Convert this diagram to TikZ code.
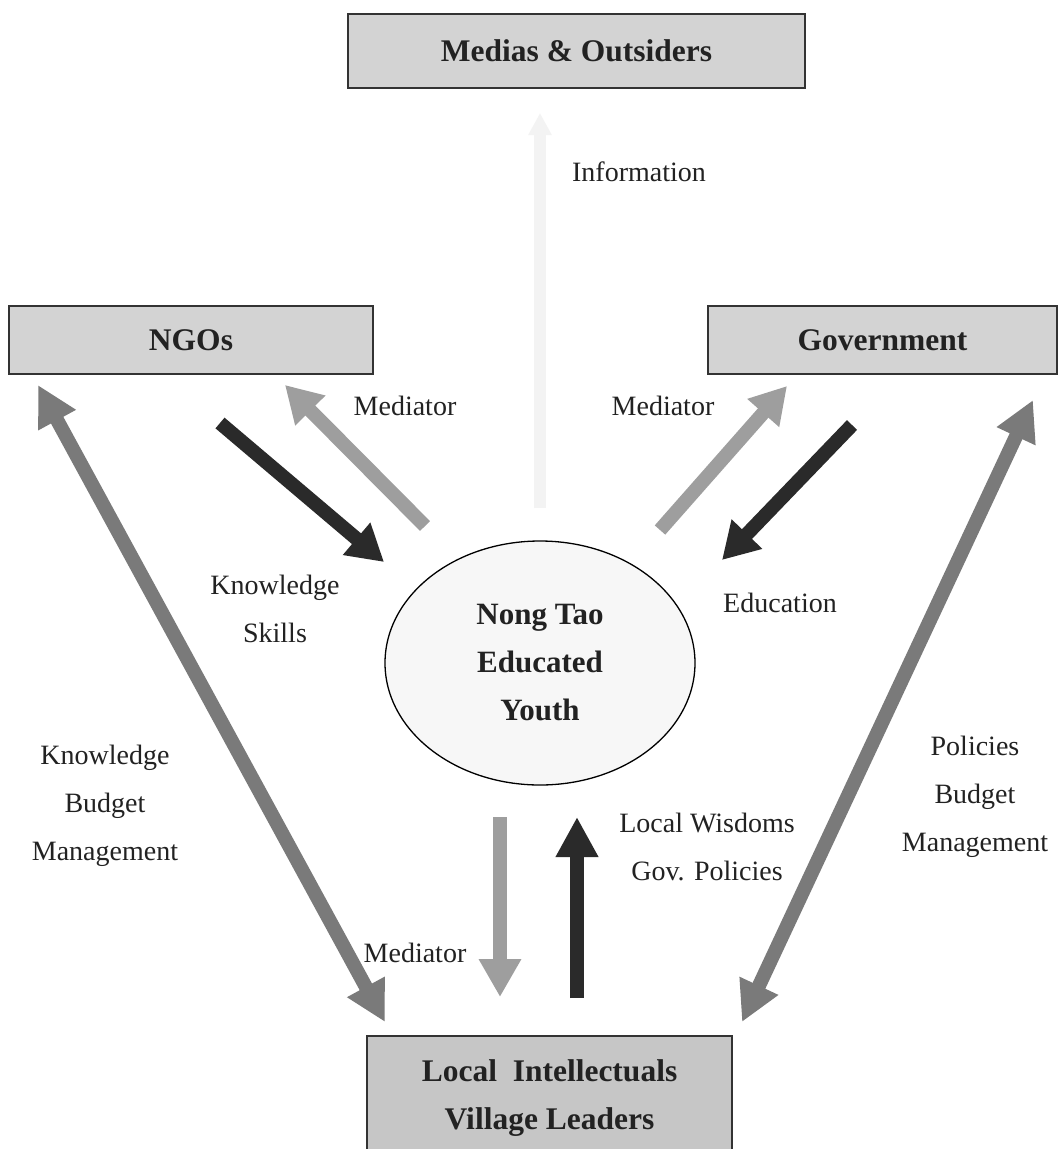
\documentclass[tikz,border=0pt]{standalone}
\usepackage{fontspec}
\setmainfont{Liberation Serif}
\usetikzlibrary{arrows.meta,shapes.geometric}
\definecolor{boxfill}{HTML}{D3D3D3}
\definecolor{boxfilldark}{HTML}{C6C6C6}
\definecolor{boxline}{HTML}{333333}
\definecolor{midgray}{HTML}{7A7A7A}
\definecolor{lightgray}{HTML}{9E9E9E}
\definecolor{darkarrow}{HTML}{2A2A2A}
\definecolor{faint}{HTML}{F3F3F3}
\definecolor{txt}{HTML}{222222}
\tikzset{
  box/.style={draw=boxline, line width=1.8pt, fill=boxfill, text=txt,
    font=\fontsize{31.5}{48}\selectfont\bfseries, inner sep=0pt, align=center},
  lbl/.style={font=\fontsize{28}{48}\selectfont, text=txt, align=center, inner sep=0pt},
  arrbase/.style={line width=14pt},
  onehead/.style={arrbase, -{Triangle[width=40pt,length=36pt]}},
  twohead/.style={arrbase, {Triangle[width=40pt,length=40pt]}-{Triangle[width=40pt,length=40pt]}},
}
\begin{document}
\begin{tikzpicture}[x=1pt,y=-1pt]
\useasboundingbox[fill=white] (0,0) rectangle (1062,1149);
\begin{scope}
\clip (0,0) rectangle (1062,1149);
% boxes
\node[box, minimum width=457pt, minimum height=74pt] (media) at (576.5,51) {Medias \& Outsiders};
\node[box, minimum width=364pt, minimum height=68pt] (ngo) at (191,340) {NGOs};
\node[box, minimum width=349pt, minimum height=68pt] (gov) at (882.5,340) {Government};
\node[box, fill=boxfilldark, minimum width=365pt, minimum height=124pt] (local) at (549.5,1098) {Local\ \ Intellectuals\\Village Leaders};
\node[ellipse, draw=black, line width=1.3pt, fill=white!97!black, minimum width=310pt, minimum height=244pt, inner sep=0pt,
  font=\fontsize{31}{48}\selectfont\bfseries, text=txt, align=center] (youth) at (540,663) {Nong Tao\\Educated\\Youth};

% coordinates for arrow ends
\coordinate (inf1) at (540,508);
\coordinate (inf2) at (540,113);
\coordinate (nA) at (38,385);
\coordinate (nB) at (385,1022);
\coordinate (gA) at (1033,400);
\coordinate (gB) at (742,1022);
\coordinate (nk1) at (220,423);
\coordinate (nk2) at (384,562);
\coordinate (nm1) at (425,526);
\coordinate (nm2) at (285,385);
\coordinate (gm1) at (660,530);
\coordinate (gm2) at (787,386);
\coordinate (ge1) at (852,425);
\coordinate (ge2) at (722,560);
\coordinate (vm1) at (500,817);
\coordinate (vm2) at (500,997);
\coordinate (vw1) at (577,998);
\coordinate (vw2) at (577,817);

% arrows
\draw[line width=12pt, faint, -{Triangle[width=22pt,length=22pt]}] (inf1) -- (inf2);
\draw[twohead, midgray] (nA) -- (nB);
\draw[twohead, midgray] (gA) -- (gB);
\draw[onehead, darkarrow] (nk1) -- (nk2);
\draw[onehead, lightgray] (nm1) -- (nm2);
\draw[onehead, lightgray] (gm1) -- (gm2);
\draw[onehead, darkarrow] (ge1) -- (ge2);
\draw[arrbase, lightgray, -{Triangle[width=40pt,length=38pt]}] (vm1) -- (vm2);
\draw[arrbase, darkarrow, -{Triangle[width=40pt,length=40pt]}] (vw1) -- (vw2);

% labels
\node[lbl] (linfo) at (639,172) {Information};
\node[lbl] (lmedn) at (405,406) {Mediator};
\node[lbl] (lmedg) at (663,406) {Mediator};
\node[lbl] (lks) at (275,609) {Knowledge\\Skills};
\node[lbl] (ledu) at (780,603) {Education};
\node[lbl] (lkbm) at (105,806) {Knowledge\\Budget\\Management};
\node[lbl] (lpbm) at (975,797) {Policies\\Budget\\Management};
\node[lbl] (llw) at (707,847) {Local Wisdoms\\Gov. Policies};
\node[lbl] (lmedb) at (415,953) {Mediator};
\end{scope}
\end{tikzpicture}
\end{document}
